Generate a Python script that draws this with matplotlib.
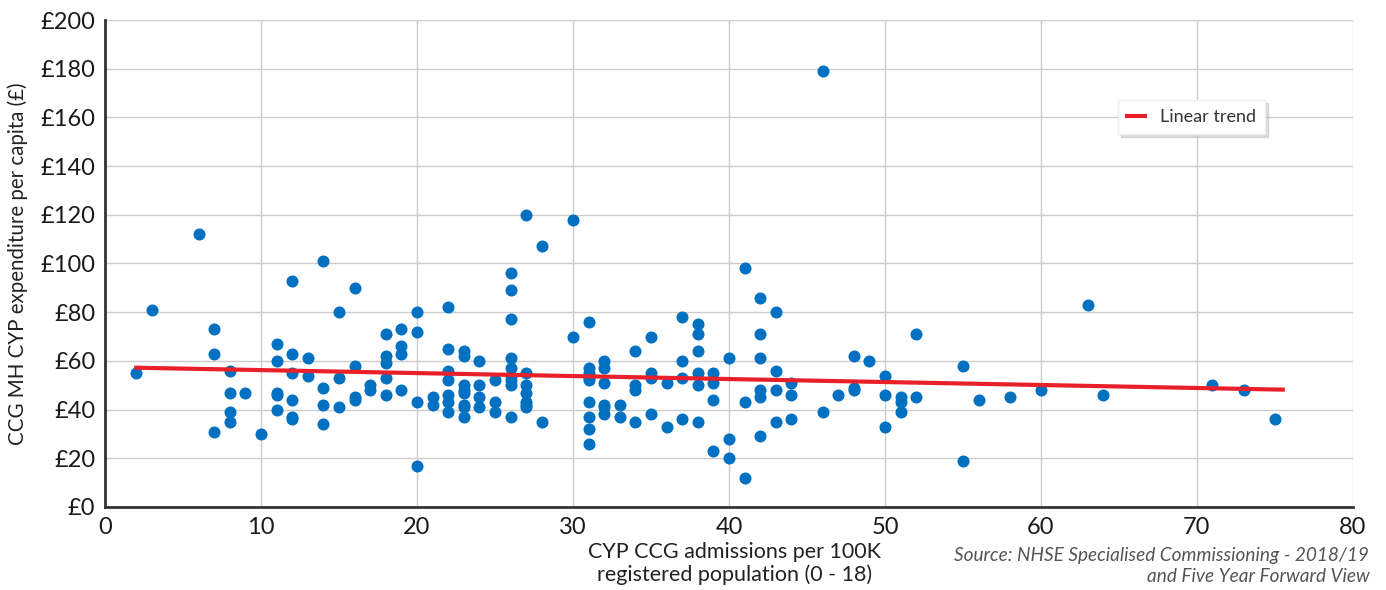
import matplotlib.pyplot as plt
from matplotlib.ticker import FuncFormatter

# admissions per 100K (x) and expenditure per capita in £ (y), read column by column
admissions = [2, 3, 6, 7, 7, 7, 8, 8, 8, 8, 9, 10,
              11, 11, 11, 11, 11, 12, 12, 12, 12, 12, 12, 13, 13,
              14, 14, 14, 14, 15, 15, 15, 16, 16, 16, 16, 17, 17,
              18, 18, 18, 18, 18, 19, 19, 19, 19, 20, 20, 20, 20,
              21, 21, 22, 22, 22, 22, 22, 22, 22,
              23, 23, 23, 23, 23, 23, 23, 23, 24, 24, 24, 24,
              25, 25, 25, 26, 26, 26, 26, 26, 26, 26, 26, 26,
              27, 27, 27, 27, 27, 27, 27, 28, 28, 30, 30,
              31, 31, 31, 31, 31, 31, 31, 31, 31,
              32, 32, 32, 32, 32, 32, 33, 33, 34, 34, 34, 34,
              35, 35, 35, 35, 36, 36, 37, 37, 37, 37,
              38, 38, 38, 38, 38, 38, 39, 39, 39, 39, 40, 40, 40,
              41, 41, 41, 42, 42, 42, 42, 42, 42, 43, 43, 43, 43,
              44, 44, 44, 46, 46, 47, 48, 48, 48, 49, 50, 50, 50,
              51, 51, 51, 52, 52, 55, 55, 56, 58, 60, 63, 64, 71, 73, 75]
spend = [55, 81, 112, 73, 63, 31, 56, 47, 39, 35, 47, 30,
         67, 60, 47, 46, 40, 93, 63, 55, 44, 37, 36, 61, 54,
         101, 49, 42, 34, 80, 53, 41, 90, 58, 45, 44, 50, 48,
         71, 62, 59, 53, 46, 73, 66, 63, 48, 80, 72, 43, 17,
         45, 42, 82, 65, 56, 52, 46, 43, 39,
         64, 62, 50, 48, 47, 42, 41, 37, 60, 50, 45, 41,
         52, 43, 39, 96, 89, 77, 61, 57, 54, 52, 50, 37,
         120, 55, 50, 47, 43, 42, 41, 107, 35, 118, 70,
         76, 57, 55, 53, 52, 43, 37, 32, 26,
         60, 57, 51, 42, 41, 38, 42, 37, 64, 50, 48, 35,
         70, 55, 53, 38, 51, 33, 78, 60, 53, 36,
         75, 71, 64, 55, 50, 35, 55, 51, 44, 23, 61, 28, 20,
         98, 43, 12, 86, 71, 61, 48, 45, 29, 80, 56, 48, 35,
         51, 46, 36, 179, 39, 46, 62, 49, 48, 60, 54, 46, 33,
         45, 43, 39, 71, 45, 58, 19, 44, 45, 48, 83, 46, 50, 48, 36]

trend_x = [2, 75.5]
trend_y = [57.2, 48.2]

plt.rcParams['font.family'] = ['Lato', 'DejaVu Sans']

fig = plt.figure(figsize=(13.86, 5.9), dpi=100)
ax = fig.add_axes([0.0758, 0.1407, 0.9003, 0.8254])

ax.scatter(admissions, spend, s=75, color='#0070C0', zorder=3, linewidths=0)
ax.plot(trend_x, trend_y, color='#E8202A', lw=3, zorder=4, label='Linear trend')

ax.set_xlim(0, 80)
ax.set_ylim(0, 200)
ax.set_xticks(range(0, 81, 10))
ax.set_yticks(range(0, 201, 20))
ax.yaxis.set_major_formatter(FuncFormatter(lambda v, p: '£%d' % v))
ax.grid(True, color='#cccccc', lw=1)
ax.set_axisbelow(True)
for s in ['top', 'right']:
    ax.spines[s].set_visible(False)
for s in ['left', 'bottom']:
    ax.spines[s].set_color('#333333')
    ax.spines[s].set_linewidth(2)
ax.tick_params(length=0, labelsize=17, colors='#1a1a1a', pad=7)

ax.set_ylabel('CCG MH CYP expenditure per capita (£)', fontsize=14.8, color='#222222')
ax.yaxis.set_label_coords(-0.062, 0.5)

fig.text(0.53, 0.008, 'CYP CCG admissions per 100K\nregistered population (0 - 18)',
         ha='center', va='bottom', fontsize=15.5, color='#222222', linespacing=1.15)
fig.text(0.988, 0.008, 'Source: NHSE Specialised Commissioning - 2018/19\nand Five Year Forward View',
         ha='right', va='bottom', fontsize=13.7, style='italic', color='#555555', linespacing=1.3)

leg = ax.legend(loc='upper left', bbox_to_anchor=(0.812, 0.836), fontsize=13,
                frameon=True, shadow={'color': '#bbbbbb', 'alpha': 0.5},
                fancybox=False, handlelength=1.0, borderpad=0.5, borderaxespad=0,
                framealpha=1)
leg.get_frame().set_edgecolor('#eeeeee')
for t in leg.get_texts():
    t.set_color('#333333')

fig.savefig('out.png', dpi=100)
